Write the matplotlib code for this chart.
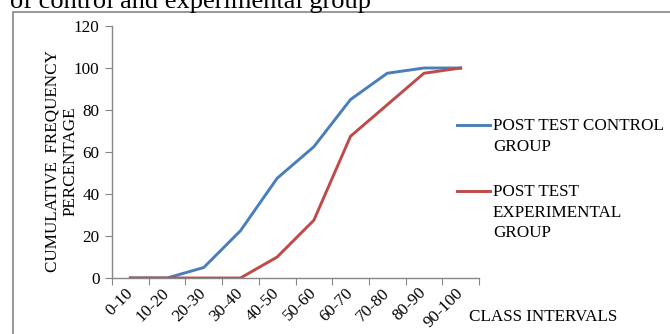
import matplotlib.pyplot as plt
import numpy as np
from matplotlib.lines import Line2D
from matplotlib.patches import Rectangle

classes = ["0-10", "10-20", "20-30", "30-40", "40-50", "50-60", "60-70", "70-80", "80-90", "90-100"]
control = [0, 0, 5, 22.5, 47.5, 62.5, 85, 97.5, 100, 100]
experimental = [0, 0, 0, 0, 10, 27.5, 67.5, 82.5, 97.5, 100]
y_ticks = [0, 20, 40, 60, 80, 100, 120]

blue = "#4A7EBB"
red = "#BE4B48"
grey = "#868686"
fs = 12.3

plt.rcParams['font.family'] = ['Liberation Serif', 'DejaVu Serif']

W, H = 670, 334
fig = plt.figure(figsize=(W / 100, H / 100), dpi=100)

# chart frame (runs off the right and bottom of the crop)
fig.patches.append(Rectangle((13 / W, -0.1), 1.2, 1.1 - 12 / H, transform=fig.transFigure,
                             fill=False, ec=grey, lw=1.2))

# caption cut off at the top
fig.text(10 / W, 1 - 8 / H, "of control and experimental group", fontsize=19,
         ha='left', va='baseline', color='black')

ax = fig.add_axes([112 / W, 1 - 278 / H, (479 - 112) / W, (278 - 26) / H])
x = np.arange(len(classes)) + 0.5
ax.plot(x, control, color=blue, lw=2.1, solid_joinstyle='round')
ax.plot(x, experimental, color=red, lw=2.1, solid_joinstyle='round')

ax.set_xlim(0, len(classes))
ax.set_ylim(0, 120)
ax.set_yticks(y_ticks)
ax.set_xticks(np.arange(len(classes) + 1))
ax.set_xticklabels([])
ax.set_xticks(x, minor=True)
ax.set_xticklabels(classes, minor=True, rotation=45, ha='right', va='center',
                   rotation_mode='anchor', fontsize=fs)
ax.tick_params(axis='x', which='minor', length=0, pad=9)
ax.tick_params(axis='both', which='major', length=5, color=grey, labelsize=fs)
ax.tick_params(axis='y', pad=4)
for s in ['top', 'right']:
    ax.spines[s].set_visible(False)
for s in ['left', 'bottom']:
    ax.spines[s].set_color(grey)
    ax.spines[s].set_linewidth(1.0)

fig.text(53 / W, 1 - 161 / H, "CUMULATIVE  FREQUENCY", rotation=90, ha='center', va='center', fontsize=fs)
fig.text(71 / W, 1 - 161 / H, "PERCENTAGE", rotation=90, ha='center', va='center', fontsize=fs)
fig.text(469 / W, 1 - 317 / H, "CLASS INTERVALS", ha='left', va='center', fontsize=fs)

# legend
legend_items = [("POST TEST CONTROL\nGROUP", blue, 125),
                ("POST TEST\nEXPERIMENTAL\nGROUP", red, 191)]
for label, col, yy in legend_items:
    fig.add_artist(Line2D([457 / W, 490 / W], [1 - yy / H, 1 - yy / H], color=col, lw=2.1,
                          transform=fig.transFigure))
    fig.text(493 / W, 1 - (yy - 7) / H, label, ha='left', va='top', fontsize=fs, linespacing=1.38)

fig.savefig("out.png", dpi=100)
